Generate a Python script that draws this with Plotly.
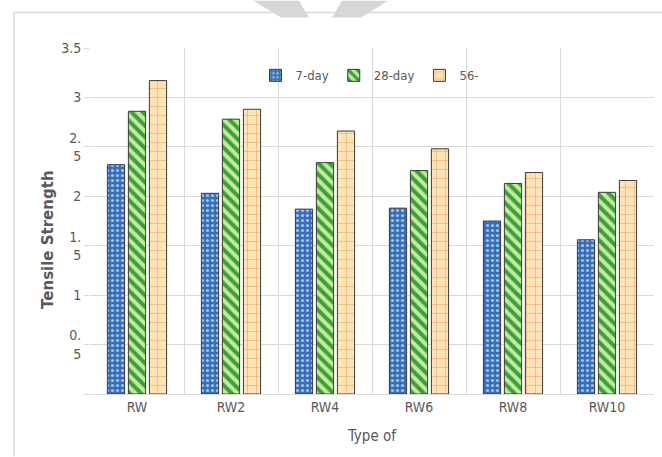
import plotly.graph_objects as go

# Split tensile strength by mix and curing age
mixes = ["RW", "RW2", "RW4", "RW6", "RW8", "RW10"]
day7 = [2.32, 2.03, 1.87, 1.88, 1.75, 1.56]
day28 = [2.86, 2.78, 2.34, 2.26, 2.13, 2.04]
day56 = [3.17, 2.88, 2.66, 2.48, 2.24, 2.16]
series_names = ["7-day", "28-day", "56-"]

y_tickvals = [0, 0.5, 1, 1.5, 2, 2.5, 3, 3.5]
y_ticktext = ["", "0.<br>5", "1", "1.<br>5", "2", "2.<br>5", "3", "3.5"]

W, H = 662, 457
L, R, T, B = 90, 8, 47.5, 62.5
PW, PH = W - L - R, H - T - B


def px(x):
    return (x - L) / PW


def py(y):
    return (H - B - y) / PH


NARROW = "DejaVu Sans Condensed, Liberation Sans Narrow, Arial Narrow, sans-serif"
GREY_TXT = "#595959"
GRID = "#d9d9d9"

styles = [
    dict(bg="#3a6db3", fg="#9cc4ee", shape=".", size=5, solidity=0.32),
    dict(bg="#c4eb9c", fg="#3d9e3d", shape="\\", size=8, solidity=0.5),
    dict(bg="#fde4b6", fg="#e3a263", shape="+", size=9, solidity=0.12),
]

fig = go.Figure()
for name, vals, st in zip(series_names, [day7, day28, day56], styles):
    fig.add_trace(go.Bar(
        name=name, x=mixes, y=vals,
        marker=dict(
            color=st["bg"],
            line=dict(color="#3a3a3a", width=1),
            pattern=dict(shape=st["shape"], bgcolor=st["bg"], fgcolor=st["fg"],
                         size=st["size"], solidity=st["solidity"], fillmode="replace"),
        ),
    ))

shapes = [
    # outer chart frame
    dict(type="line", xref="paper", yref="paper", x0=px(14), x1=px(662), y0=py(12), y1=py(12),
         line=dict(color=GRID, width=1.5)),
    dict(type="line", xref="paper", yref="paper", x0=px(14), x1=px(14), y0=py(12), y1=py(457),
         line=dict(color=GRID, width=1.5)),
]
# grey chevron mark at the top edge
for pts in ([(253, 0), (299, 0), (309, 17), (281, 17)],
            [(342, 0), (388, 0), (361, 17), (332, 17)]):
    path = "M " + " L ".join(f"{px(a):.4f},{py(b):.4f}" for a, b in pts) + " Z"
    shapes.append(dict(type="path", xref="paper", yref="paper", path=path,
                       fillcolor="#d6d6d6", line=dict(width=0), layer="below"))

fig.update_layout(
    width=W, height=H,
    margin=dict(l=L, r=R, t=T, b=B, autoexpand=False),
    paper_bgcolor="white", plot_bgcolor="white",
    barmode="group", bargap=0.33, bargroupgap=0.18,
    font=dict(family=NARROW, color=GREY_TXT, size=14),
    showlegend=True,
    legend=dict(orientation="h", x=px(370), xanchor="center", y=py(75), yanchor="middle",
                font=dict(family=NARROW, size=13, color=GREY_TXT),
                itemwidth=30, tracegroupgap=0, bgcolor="rgba(0,0,0,0)"),
    shapes=shapes,
    annotations=[
        dict(text="<b>Tensile Strength</b>", xref="paper", yref="paper",
             x=px(48), y=py(240), xanchor="center", yanchor="middle",
             textangle=-90, showarrow=False,
             font=dict(family="DejaVu Sans, Liberation Sans, sans-serif", size=15,
                       color=GREY_TXT)),
    ],
)

fig.update_xaxes(
    type="category", tickson="boundaries",
    showgrid=True, gridcolor=GRID, gridwidth=1,
    showline=True, linecolor=GRID, mirror=False,
    ticks="", tickfont=dict(family=NARROW, size=14, color=GREY_TXT),
    title=dict(text="Type of", font=dict(family=NARROW, size=15, color=GREY_TXT), standoff=16),
    automargin=False,
)
fig.update_yaxes(
    range=[0, 3.5], tickvals=y_tickvals, ticktext=y_ticktext,
    showgrid=True, gridcolor=GRID, gridwidth=1, zeroline=False,
    showline=False, ticks="outside", ticklen=5, tickcolor=GRID,
    tickfont=dict(family=NARROW, size=14, color=GREY_TXT),
    automargin=False,
)

fig.write_html("out.html")
